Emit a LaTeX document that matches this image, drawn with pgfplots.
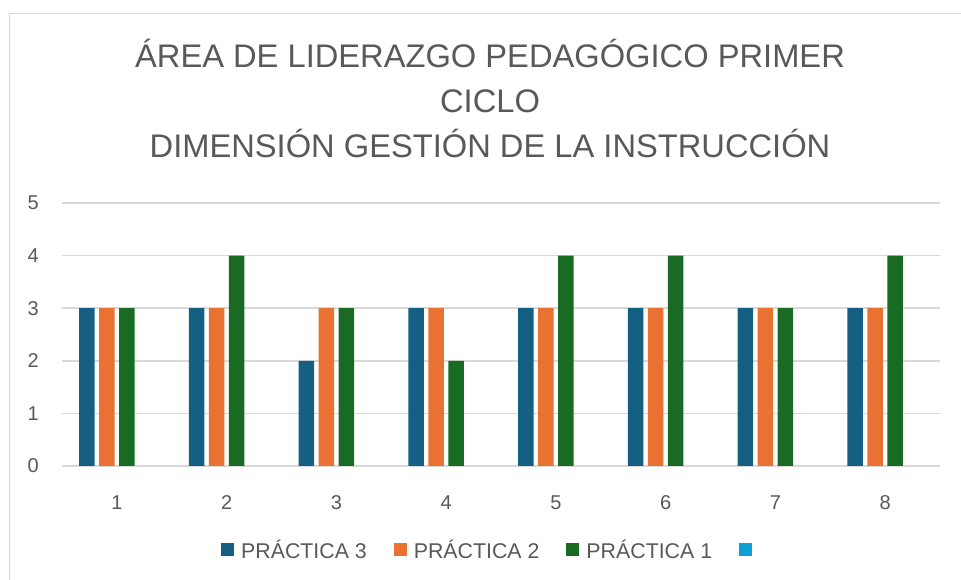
\documentclass[border=0pt]{standalone}
\usepackage{fontspec}
\setmainfont{Liberation Sans}
\usepackage{pgfplots}
\pgfplotsset{compat=1.18}
\definecolor{serA}{HTML}{156082}
\definecolor{serB}{HTML}{E97132}
\definecolor{serC}{HTML}{196B24}
\definecolor{serD}{HTML}{0F9ED5}
\definecolor{txtgray}{HTML}{595959}
\definecolor{linegray}{HTML}{D9D9D9}
\begin{document}
\begin{tikzpicture}
% page frame, 961 x 580 px at 0.75pt per px
\useasboundingbox (0,0) rectangle (720.75pt,-435pt);
\draw[linegray, line width=1.1pt] (7.1pt,-600pt) -- (7.1pt,-10.1pt) -- (800pt,-10.1pt);

% title
\begin{scope}[every node/.style={anchor=base, text=txtgray, font=\fontsize{24.5}{24.5}\selectfont}]
\node at (367.5pt,-51pt) {ÁREA DE LIDERAZGO PEDAGÓGICO PRIMER};
\node at (367.5pt,-84.75pt) {CICLO};
\node at (367.5pt,-118.5pt) {DIMENSIÓN GESTIÓN DE LA INSTRUCCIÓN};
\end{scope}

\begin{axis}[
    at={(46.5pt,-349.5pt)}, anchor=south west,
    scale only axis, width=658.5pt, height=197.25pt,
    xmin=0.5, xmax=8.5, ymin=0, ymax=5,
    xtick={1,...,8}, ytick={0,...,5},
    axis line style={draw=none},
    tick style={draw=none},
    ymajorgrids,
    grid style={linegray, line width=1.1pt},
    /pgf/number format/assume math mode=true,
    ticklabel style={text=txtgray, font=\fontsize{15}{15}\selectfont, inner sep=0pt},
    yticklabel style={anchor=east, xshift=-17.25pt},
    xticklabel style={anchor=north, yshift=-18pt},
    ybar, bar width=11.8pt,
    legend columns=4,
    legend style={at={(0.489,-0.319)}, anchor=center, draw=none,
        font=\fontsize{16}{16}\selectfont, text=txtgray,
        /tikz/every odd column/.append style={column sep=3.5pt},
        /tikz/every even column/.append style={column sep=18pt}},
    legend image code/.code={\fill[#1] (0pt,-4.9pt) rectangle (9.75pt,4.9pt);},
]
\addplot[fill=serA, draw=none, bar shift=-22.5pt] coordinates {
    (1,3) (2,3) (3,2) (4,3) (5,3) (6,3) (7,3) (8,3)
};
\addlegendentry{PRÁCTICA 3}
\addplot[fill=serB, draw=none, bar shift=-7.5pt] coordinates {
    (1,3) (2,3) (3,3) (4,3) (5,3) (6,3) (7,3) (8,3)
};
\addlegendentry{PRÁCTICA 2}
\addplot[fill=serC, draw=none, bar shift=7.5pt] coordinates {
    (1,3) (2,4) (3,3) (4,2) (5,4) (6,4) (7,3) (8,4)
};
\addlegendentry{PRÁCTICA 1}
% fourth series has no values, only its legend key
\addlegendimage{fill=serD, draw=none}
\addlegendentry{}
\end{axis}
\end{tikzpicture}
\end{document}
